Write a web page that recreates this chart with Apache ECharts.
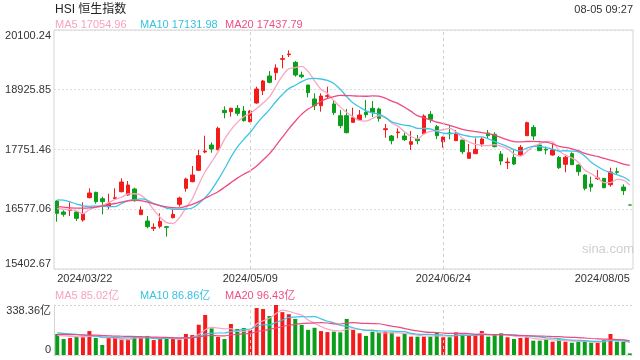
<!DOCTYPE html>
<html><head><meta charset="utf-8">
<script src="https://cdn.jsdelivr.net/npm/echarts@6/dist/echarts.min.js"></script>
<style>html,body{margin:0;padding:0;background:#fff}#c{width:640px;height:360px}</style>
</head><body><div id="c"></div>
<script>
const dates = [
'2024/03/22','2024/03/25','2024/03/26','2024/03/27','2024/03/28','2024/04/02','2024/04/03','2024/04/05','2024/04/08','2024/04/09',
'2024/04/10','2024/04/11','2024/04/12','2024/04/15','2024/04/16','2024/04/17','2024/04/18','2024/04/19','2024/04/22','2024/04/23',
'2024/04/24','2024/04/25','2024/04/26','2024/04/29','2024/04/30','2024/05/02','2024/05/03','2024/05/06','2024/05/07','2024/05/08',
'2024/05/09','2024/05/10','2024/05/13','2024/05/14','2024/05/16','2024/05/17','2024/05/20','2024/05/21','2024/05/22','2024/05/23',
'2024/05/24','2024/05/27','2024/05/28','2024/05/29','2024/05/30','2024/05/31','2024/06/03','2024/06/04','2024/06/05','2024/06/06',
'2024/06/07','2024/06/11','2024/06/12','2024/06/13','2024/06/14','2024/06/17','2024/06/18','2024/06/19','2024/06/20','2024/06/21',
'2024/06/24','2024/06/25','2024/06/26','2024/06/27','2024/06/28','2024/07/02','2024/07/03','2024/07/04','2024/07/05','2024/07/08',
'2024/07/09','2024/07/10','2024/07/11','2024/07/12','2024/07/15','2024/07/16','2024/07/17','2024/07/18','2024/07/19','2024/07/22',
'2024/07/23','2024/07/24','2024/07/25','2024/07/26','2024/07/29','2024/07/30','2024/07/31','2024/08/01','2024/08/02','2024/08/05'];

const opens = [
16739.0,16522.8,16555.6,16522.8,16365.6,16804.6,16909.4,16784.9,16627.7,16784.9,
16922.5,16857.0,16974.9,16470.4,16345.9,16201.8,16241.1,16234.5,16411.4,16673.5,
16988.0,17119.1,17341.8,17702.2,17839.8,17748.1,18521.2,18495.0,18560.5,18508.1,
18298.4,18665.3,18907.8,19196.0,19261.6,19523.6,19615.4,19464.7,19215.7,19019.1,
18744.0,18612.9,18796.4,18645.7,18416.4,18416.4,18285.3,18337.7,18481.9,18560.5,
18547.4,18141.2,18016.7,18082.2,18016.7,17852.9,17957.7,18062.5,18442.6,18200.1,
17905.3,18075.7,17925.0,17938.1,17577.7,17669.4,17859.4,18075.7,18049.4,17662.9,
17492.5,17597.4,17643.2,18023.2,18187.0,17839.8,17754.6,17643.2,17597.4,17459.8,
17669.4,17446.7,17250.1,17073.2,17178.0,17184.6,17060.1,17315.6,17014.2,16660.4];

const closes = [
16496.6,16477.0,16575.2,16398.3,16490.1,16896.3,16725.9,16725.9,16693.2,16804.6,
17112.5,17053.5,16745.6,16562.1,16234.5,16221.4,16339.4,16221.4,16477.0,16798.0,
17171.5,17250.1,17630.1,17721.8,17761.2,18167.4,18475.3,18560.5,18462.2,18318.1,
18508.1,18940.5,19097.8,19071.6,19353.3,19536.7,19628.5,19215.7,19182.9,18868.4,
18612.9,18802.9,18809.5,18475.3,18219.8,18082.2,18377.0,18429.5,18436.0,18481.9,
18363.9,18160.8,17925.0,18095.3,17944.6,17905.3,17925.0,18409.8,18344.3,18023.2,
17997.0,18062.5,18056.0,17708.7,17689.1,17754.6,17957.7,18023.2,17807.0,17525.3,
17505.6,17466.3,17793.9,18278.8,18016.7,17728.4,17741.5,17741.5,17394.2,17597.4,
17453.2,17315.6,16988.0,17014.2,17191.1,17001.1,17309.1,17302.5,16942.2,16660.4];

const lows = [
16332.8,16431.1,16444.2,16345.9,16332.8,16791.5,16686.6,16477.0,16575.2,16778.4,
16909.4,16843.9,16725.9,16463.9,16201.8,16149.4,16201.8,16038.0,16398.3,16627.7,
16922.5,17106.0,17328.7,17676.0,17689.1,17734.9,18363.9,18396.7,18416.4,18298.4,
18285.3,18652.2,18822.6,19051.9,19117.4,19346.7,19569.5,19182.9,19150.2,18776.7,
18527.7,18495.0,18757.1,18429.5,18167.4,18069.1,18278.8,18331.2,18377.0,18390.1,
18298.4,17983.9,17852.9,17970.8,17918.4,17741.5,17852.9,18049.4,18278.8,17957.7,
17787.4,17951.2,17925.0,17662.9,17577.7,17669.4,17807.0,17970.8,17793.9,17446.7,
17368.0,17446.7,17623.6,18016.7,17938.1,17721.8,17656.3,17630.1,17368.0,17302.5,
17446.7,17237.0,16948.7,16922.5,17151.8,16988.0,17020.8,17250.1,16857.0,16660.4];

const highs = [
16752.1,16555.6,16712.8,16542.5,16712.8,16988.0,16922.5,16824.2,16883.2,16988.0,
17184.6,17132.2,17001.1,16634.2,16444.2,16300.1,16496.6,16247.6,16588.3,16824.2,
17197.7,17427.0,17741.5,18023.2,17892.2,18200.1,18599.8,18573.6,18626.0,18606.4,
18527.7,18986.4,19117.4,19294.3,19425.4,19608.8,19700.5,19490.9,19281.2,19019.1,
18855.3,18855.3,18986.4,18724.3,18527.7,18547.4,18573.6,18527.7,18724.3,18704.6,
18573.6,18252.6,18036.3,18167.4,18082.2,18115.0,18036.3,18442.6,18508.1,18232.9,
18003.6,18232.9,18134.6,17938.1,17859.4,17970.8,17990.5,18134.6,18088.8,17721.8,
17590.8,17741.5,17839.8,18298.4,18232.9,17872.5,17807.0,17872.5,17623.6,17623.6,
17695.6,17459.8,17263.2,17217.3,17348.4,17184.6,17394.2,17394.2,17066.6,16660.4];

const ma5 = [
16590,16580,16570,16545,16487.4,16567.4,16617.2,16647.3,16706.3,16769.2,
16812.4,16877.9,16881.9,16855.7,16741.6,16563.4,16420.6,16315.8,16298.7,16411.4,
16601.5,16783.6,17065.3,17314.3,17506.9,17706.1,17951.2,18137.2,18285.3,18396.7,
18464.8,18557.9,18665.3,18787.2,18994.3,19200.0,19337.6,19361.2,19383.4,19286.4,
19101.7,18936.6,18855.3,18713.8,18584.1,18477.9,18392.8,18316.8,18308.9,18361.3,
18417.7,18374.4,18273.5,18205.4,18097.9,18006.2,17959.0,18056.0,18105.8,18121.5,
18139.9,18167.4,18096.6,17969.5,17902.7,17854.2,17833.2,17826.7,17846.3,17813.6,
17763.8,17665.5,17619.6,17714.0,17812.3,17856.8,17911.9,17901.4,17724.5,17640.6,
17585.6,17500.4,17349.7,17273.7,17192.4,17102.0,17100.7,17163.6,17149.2,17054.96];

const ma10 = [
16760,16755,16720,16680,16645,16635,16640,16640,16630,16628.3,
16689.9,16747.6,16764.6,16781.0,16755.4,16687.9,16649.3,16598.8,16577.2,16576.5,
16582.4,16602.1,16690.6,16806.5,16959.2,17153.8,17367.4,17601.3,17799.8,17951.8,
18085.5,18254.5,18401.3,18536.3,18695.5,18832.4,18947.7,19013.3,19085.3,19140.4,
19150.8,19137.1,19108.2,19048.6,18935.3,18789.8,18664.7,18586.0,18511.4,18472.7,
18447.8,18383.6,18295.1,18257.1,18229.6,18211.9,18166.7,18164.8,18155.6,18109.7,
18073.0,18063.2,18076.3,18037.6,18012.1,17997.0,18000.3,17961.6,17907.9,17858.1,
17809.0,17749.4,17723.1,17780.2,17812.9,17810.3,17788.7,17760.5,17719.2,17726.4,
17721.2,17706.1,17625.5,17499.1,17416.5,17343.8,17300.5,17256.6,17211.4,17131.98];

const ma20 = [
16628,16620,16605,16600,16598,16605,16620,16640,16665,16690,
16718,16740,16755,16745,16718,16685,16650,16625,16610,16602.4,
16636.2,16674.8,16727.6,16793.7,16857.3,16920.9,17008.3,17100.1,17188.5,17264.2,
17334.0,17428.3,17545.9,17671.4,17827.3,17993.1,18157.6,18307.3,18442.6,18546.1,
18618.2,18695.8,18754.8,18792.4,18815.4,18811.1,18806.2,18799.6,18798.3,18806.5,
18799.3,18760.3,18701.7,18652.9,18582.4,18500.9,18415.7,18375.4,18333.5,18291.2,
18260.4,18223.4,18185.7,18147.4,18120.9,18104.5,18083.5,18063.2,18031.7,17983.9,
17941.0,17906.3,17899.7,17908.9,17912.5,17903.7,17894.5,17861.1,17813.6,17792.3,
17765.1,17727.7,17674.3,17639.6,17614.7,17577.0,17544.6,17508.6,17465.3,17437.79];

const volumes = [
142,108,115,122,124,162,115,68,115,115,
110,108,129,120,129,101,108,113,108,104,
142,135,205,271,180,122,108,210,176,183,
169,318,311,264,338.36,290,276,244,203,170,
184,162,155,158,153,244,169,147,129,158,
153,158,153,124,147,124,124,124,124,153,
120,120,153,147,135,131,162,124,135,147,
120,108,115,120,97,97,106,90,106,90,
83,90,97,83,83,101,142,90,90,11];

const vma5 = [
135,130,126,124,122.2,126.2,127.6,118.2,116.8,115,
104.6,103.2,115.4,116.4,119.2,117.4,117.4,114.2,111.8,106.8,
115,120.4,138.8,171.4,186.6,182.6,177.2,178.2,159.2,159.8,
169.2,211.2,231.4,249,280,304.2,295.8,282.4,270.2,236.6,
215.4,192.6,174.8,165.8,162.4,174.4,175.8,174.2,168.4,169.4,
151.2,149,150.2,149.2,147,141.2,134.4,128.6,128.6,129.8,
129,128.2,134,138.6,135,137.2,145.6,139.8,137.4,139.8,
137.6,126.8,125,122,112,107.4,107,102,99.2,97.8,
95,91.8,93.2,88.6,87.2,90.8,101.2,99.8,101.2,85.02];

const vma10 = [
150,147,143,139,135,131,127,123,120,118.6,
115.4,115.4,116.8,116.6,117.1,111,110.3,114.8,114.1,113,
116.2,118.9,126.5,141.6,146.7,148.8,148.8,158.5,165.3,173.2,
175.9,194.2,204.8,204.1,219.9,236.7,253.5,256.9,259.6,258.3,
259.8,244.2,228.6,218,199.5,194.9,184.2,174.5,167.1,165.9,
162.8,162.4,162.2,158.8,158.2,146.2,141.7,139.4,138.9,138.4,
135.1,131.3,131.3,133.6,132.4,133.1,136.9,136.9,138,137.4,
137.4,136.2,132.4,129.7,125.9,122.5,116.9,113.5,110.6,104.9,
101.2,99.4,97.6,93.9,92.5,92.9,96.5,96.5,94.9,86.86];

const vma20 = [
140,139,138,137,136,135,134,132,130,128,
127,126,125,124,122,121,120,119,117,115.8,
115.8,117.2,121.7,129.1,131.9,129.9,129.6,136.7,139.7,143.1,
146.1,156.6,165.7,172.9,183.3,192.8,201.2,207.7,212.5,215.8,
217.9,219.2,216.7,211.1,209.7,215.8,218.9,215.7,213.4,212.1,
211.3,203.3,195.4,188.4,178.9,170.6,163,157,153,152.2,
149,146.9,146.8,146.2,145.3,139.7,139.3,138.2,138.5,137.9,
136.3,133.8,131.9,131.7,129.2,127.8,126.9,125.2,124.3,121.2,
119.3,117.8,115,111.8,109.2,107.7,106.7,105,102.8,96.43];

const yTickLabels = ['15402.67','16577.06','17751.46','18925.85','20100.24'];
const yMin = 15402.67, yMax = 20100.24;
const volTickLabels = ['0','338.36亿'];
const volMax = 338.36;
const xLabelIdx = [0, 30, 60, 89];
const markDates = ['2024/05/09', '2024/06/24'];
const titleText = 'HSI 恒生指数';
const timeText = '08-05 09:27';
const maLegend = ['MA5 17054.96', 'MA10 17131.98', 'MA20 17437.79'];
const volLegend = ['MA5 85.02亿', 'MA10 86.86亿', 'MA20 96.43亿'];

const FONT = 'Liberation Sans, Arial, Noto Sans CJK SC, sans-serif';
const UP = '#f41b1b', DOWN = '#0b9e1b';
const C5 = '#fba4c4', C10 = '#3cc5e5', C20 = '#ee4a80';
const T5 = '#f7a2c1', T10 = '#38c2e2', T20 = '#ee4f84';

function isUp(i) {
  if (closes[i] > opens[i]) return true;
  if (closes[i] < opens[i]) return false;
  return i > 0 ? closes[i] >= closes[i - 1] : true;
}
const candle = dates.map((d, i) => [opens[i], closes[i], lows[i], highs[i]]);
const volData = volumes.map((v, i) => ({ value: v, itemStyle: { color: isUp(i) ? UP : DOWN } }));
const yStep = (yMax - yMin) / 4;

const markLineCfg = {
  silent: true, symbol: ['none', 'none'], animation: false,
  label: { show: false },
  lineStyle: { color: '#cfcfcf', type: [3, 3], width: 1 },
  data: markDates.map(d => ({ xAxis: d }))
};

const chart = echarts.init(document.getElementById('c'), null, { renderer: 'canvas' });
chart.setOption({
  animation: false,
  backgroundColor: '#fff',
  textStyle: { fontFamily: FONT },
  grid: [
    { left: 54, top: 30, width: 579, height: 239, show: true, borderColor: '#d4d4d4', borderWidth: 1 },
    { left: 54, top: 305, width: 579, height: 50, show: false }
  ],
  xAxis: [
    { type: 'category', gridIndex: 0, data: dates, boundaryGap: true,
      axisLine: { show: false }, axisTick: { show: false }, splitLine: { show: false },
      axisLabel: { interval: (idx) => xLabelIdx.includes(idx), fontSize: 11, color: '#333', margin: 4,
        fontFamily: FONT, alignMinLabel: 'left', alignMaxLabel: 'right', hideOverlap: false } },
    { type: 'category', gridIndex: 1, data: dates, boundaryGap: true,
      axisLine: { show: true, lineStyle: { color: '#d4d4d4', type: [2, 2] } }, axisTick: { show: false },
      axisLabel: { show: false }, splitLine: { show: false } }
  ],
  yAxis: [
    { type: 'value', gridIndex: 0, min: yMin, max: yMax, interval: yStep, scale: true,
      axisLine: { show: false }, axisTick: { show: false },
      axisLabel: { fontSize: 11, color: '#333', margin: 3, fontFamily: FONT,
        verticalAlignMinLabel: 'bottom', verticalAlignMaxLabel: 'top',
        formatter: (v) => { const k = Math.round((v - yMin) / yStep); return yTickLabels[k] ?? ''; } },
      splitLine: { show: true, lineStyle: { color: '#dcdcdc', type: [2, 2] } } },
    { type: 'value', gridIndex: 1, min: 0, max: volMax, interval: volMax,
      axisLine: { show: true, lineStyle: { color: '#d4d4d4' } }, axisTick: { show: false },
      axisLabel: { fontSize: 11, color: '#333', margin: 3, fontFamily: FONT,
        verticalAlignMinLabel: 'bottom', verticalAlignMaxLabel: 'top',
        formatter: (v) => v > 0 ? volTickLabels[1] : volTickLabels[0] },
      splitLine: { show: true, lineStyle: { color: '#d4d4d4', type: [2, 2] } } }
  ],
  series: [
    { type: 'candlestick', xAxisIndex: 0, yAxisIndex: 0, data: candle, barWidth: 4,
      itemStyle: { color: UP, color0: DOWN, borderColor: UP, borderColor0: DOWN, borderWidth: 1 },
      markLine: markLineCfg },
    { type: 'line', xAxisIndex: 0, yAxisIndex: 0, data: ma5, symbol: 'none', smooth: 0.3,
      lineStyle: { color: C5, width: 1.3 } },
    { type: 'line', xAxisIndex: 0, yAxisIndex: 0, data: ma10, symbol: 'none', smooth: 0.3,
      lineStyle: { color: C10, width: 1.3 } },
    { type: 'line', xAxisIndex: 0, yAxisIndex: 0, data: ma20, symbol: 'none', smooth: 0.3,
      lineStyle: { color: C20, width: 1.3 } },
    { type: 'bar', xAxisIndex: 1, yAxisIndex: 1, data: volData, barWidth: 4, markLine: markLineCfg },
    { type: 'line', xAxisIndex: 1, yAxisIndex: 1, data: vma5, symbol: 'none', smooth: 0.3,
      lineStyle: { color: C5, width: 1.2 } },
    { type: 'line', xAxisIndex: 1, yAxisIndex: 1, data: vma10, symbol: 'none', smooth: 0.3,
      lineStyle: { color: C10, width: 1.2 } },
    { type: 'line', xAxisIndex: 1, yAxisIndex: 1, data: vma20, symbol: 'none', smooth: 0.3,
      lineStyle: { color: C20, width: 1.2 } }
  ],
  graphic: [
    { type: 'text', left: 55, top: 4, style: { text: titleText, fill: '#222', font: '12px ' + FONT } },
    { type: 'text', right: 7, top: 4, style: { text: timeText, fill: '#333', font: '11px ' + FONT } },
    { type: 'text', left: 55, top: 19, style: { text: maLegend[0], fill: T5, font: '11px ' + FONT } },
    { type: 'text', left: 140, top: 19, style: { text: maLegend[1], fill: T10, font: '11px ' + FONT } },
    { type: 'text', left: 225, top: 19, style: { text: maLegend[2], fill: T20, font: '11px ' + FONT } },
    { type: 'text', left: 55, top: 290, style: { text: volLegend[0], fill: T5, font: '11px ' + FONT } },
    { type: 'text', left: 140, top: 290, style: { text: volLegend[1], fill: T10, font: '11px ' + FONT } },
    { type: 'text', left: 225, top: 290, style: { text: volLegend[2], fill: T20, font: '11px ' + FONT } },
    { type: 'text', left: 582, top: 243, style: { text: 'sina.com', fill: '#cfcfcf', font: '13px ' + FONT } }
  ]
});
</script>
</body></html>
